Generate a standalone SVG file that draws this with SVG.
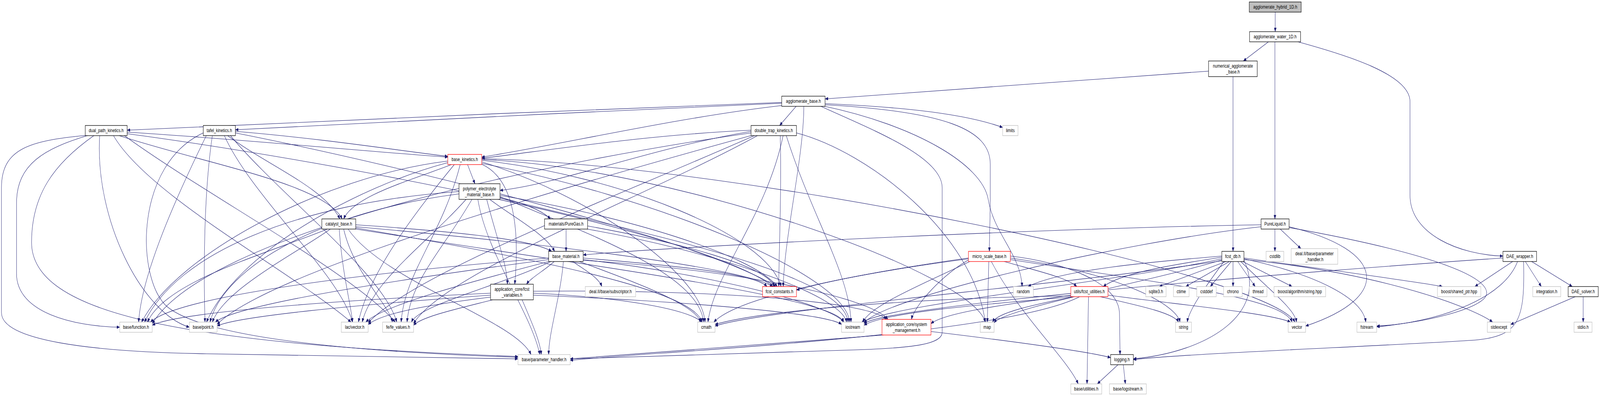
<svg xmlns="http://www.w3.org/2000/svg" width="5424" height="1013" viewBox="0 0 5424 1013" preserveAspectRatio="none" style="width:100vw;height:100vh;display:block">
<style>
.bg{fill:#ffffff}
rect.n{fill:#ffffff;stroke:#000000;stroke-width:1.3}
rect.g{fill:#ffffff;stroke:#bfbfbf;stroke-width:1.3}
rect.r{fill:#ffffff;stroke:#ff0000;stroke-width:1.3}
rect.root{fill:#bfbfbf;stroke:#000000;stroke-width:1.3}
text{font-family:"Liberation Sans",Arial,Helvetica,sans-serif;font-size:13px;fill:#000000;text-anchor:middle}
#edges path{fill:none;stroke:#191970;stroke-width:1.1;marker-end:url(#a)}
</style>
<defs>
<marker id="a" markerWidth="11" markerHeight="8" refX="10" refY="4" orient="auto" markerUnits="userSpaceOnUse">
<path d="M0,0 L10,4 L0,8 z" fill="#191970" stroke="#191970" stroke-width="0.5"/>
</marker>
</defs>
<rect class="bg" x="0" y="0" width="5424" height="1013"/>
<g id="edges">
<path d="M4323,31 L4323,81"/>
<path d="M4300,107 L4215,156"/>
<path d="M4322,107 L4322,560"/>
<path d="M4400,107 C4560,140 4780,190 4780,260 L4780,500 C4780,600 4950,652 5095,655"/>
<path d="M4097,182 L2797,253"/>
<path d="M4180,196 L4180,643"/>
<path d="M2650,262 C2000,280 900,315 431,333"/>
<path d="M2650,264 C2100,280 1200,318 798,332"/>
<path d="M2700,271 L2643,321"/>
<path d="M2650,270 C2300,300 1900,370 1633,402"/>
<path d="M2797,265 C3000,272 3250,285 3399,326"/>
<path d="M2797,268 C3200,285 3357,330 3357,420 L3357,500 C3357,560 3354,600 3354,643"/>
<path d="M2790,271 C3100,320 3330,420 3350,510 C3370,600 3460,650 3465,733"/>
<path d="M2780,271 C2950,330 3194,400 3194,480 L3194,850 C3194,880 3100,890 2900,895 C2500,905 2100,915 1933,918"/>
<path d="M2725,271 C2725,400 2660,600 2655,733"/>
<path d="M431,338 C800,355 1200,385 1518,402"/>
<path d="M300,346 C150,380 56,420 56,520 L56,700 C56,800 250,835 406,837"/>
<path d="M295,346 C100,360 5,380 5,480 L5,800 C5,870 300,900 700,905 C1200,912 1600,916 1756,918"/>
<path d="M338,346 C320,560 480,800 642,837"/>
<path d="M384,346 C500,500 1000,700 1190,824"/>
<path d="M420,346 C700,500 1200,700 1340,824"/>
<path d="M431,342 C1200,420 2400,600 2620,733"/>
<path d="M400,346 C700,420 1100,470 1160,560"/>
<path d="M320,346 C180,420 107,500 107,620 C107,800 600,880 1756,912"/>
<path d="M798,336 C1100,355 1350,385 1518,400"/>
<path d="M700,346 C600,500 480,700 470,824"/>
<path d="M720,346 C690,500 690,700 695,824"/>
<path d="M760,346 C850,500 1150,700 1195,824"/>
<path d="M780,346 C950,500 1300,700 1345,824"/>
<path d="M689,340 C460,420 460,700 560,780 C700,880 1400,905 1756,914"/>
<path d="M798,340 C1400,430 2400,620 2630,733"/>
<path d="M770,346 C900,420 1100,480 1152,560"/>
<path d="M2546,333 C2200,345 1900,380 1633,405"/>
<path d="M2546,336 C2200,380 1900,470 1695,487"/>
<path d="M2546,340 C1800,420 700,600 516,828"/>
<path d="M2550,346 C1900,480 900,700 736,830"/>
<path d="M2560,346 C2100,500 1400,700 1248,826"/>
<path d="M2570,346 C2200,500 1500,700 1402,828"/>
<path d="M2645,346 C2650,500 2640,650 2640,733"/>
<path d="M2655,346 C2600,550 2420,700 2400,824"/>
<path d="M2665,346 C2750,550 2880,700 2885,824"/>
<path d="M2700,340 C2950,390 3300,600 3340,824"/>
<path d="M1585,421 L1610,470"/>
<path d="M1530,421 C1400,460 1200,500 1165,560"/>
<path d="M1518,412 C1100,450 600,650 480,824"/>
<path d="M1518,416 C1200,480 800,650 700,824"/>
<path d="M1540,421 C1400,550 1250,700 1215,824"/>
<path d="M1560,421 C1500,600 1370,700 1360,824"/>
<path d="M1633,410 C2100,450 2600,600 2648,733"/>
<path d="M1633,414 C2000,500 2380,700 2390,824"/>
<path d="M1633,418 C2200,500 2870,700 2880,824"/>
<path d="M1633,420 C1750,460 1760,600 1745,727"/>
<path d="M1633,408 C2300,430 3300,700 3340,824"/>
<path d="M1633,406 C2500,420 4300,700 4390,824"/>
<path d="M1660,510 C1750,560 1850,600 1880,643"/>
<path d="M1695,505 C1780,520 1840,540 1866,560"/>
<path d="M1556,490 C1000,520 600,650 490,824"/>
<path d="M1556,496 C1100,540 760,680 712,824"/>
<path d="M1580,510 C1450,620 1260,720 1228,824"/>
<path d="M1600,510 C1500,640 1390,720 1380,824"/>
<path d="M1620,510 C1650,650 1800,800 1830,907"/>
<path d="M1695,500 C2100,550 2550,650 2635,733"/>
<path d="M1695,503 C2000,600 2370,700 2385,824"/>
<path d="M1695,507 C2200,600 2860,700 2875,824"/>
<path d="M1650,510 C1680,600 1720,680 1720,727"/>
<path d="M1206,575 C1500,590 1800,610 1870,643"/>
<path d="M1110,586 C900,650 560,720 500,824"/>
<path d="M1120,586 C1000,650 760,740 720,824"/>
<path d="M1150,586 C1160,700 1190,780 1195,824"/>
<path d="M1165,586 C1200,700 1320,780 1330,824"/>
<path d="M1180,586 C1300,720 1750,820 1800,907"/>
<path d="M1206,580 C1800,620 2500,680 2620,733"/>
<path d="M1206,583 C1800,660 2350,740 2380,824"/>
<path d="M1206,586 C2000,680 2830,760 2860,824"/>
<path d="M1919,586 L1919,643"/>
<path d="M1992,578 C2300,620 2600,680 2625,733"/>
<path d="M1990,586 C2400,640 2850,750 2870,824"/>
<path d="M1880,668 C1850,690 1800,710 1785,727"/>
<path d="M1940,668 C1980,690 2030,710 2040,733"/>
<path d="M1860,660 C1200,700 600,760 510,824"/>
<path d="M1860,664 C1300,720 800,780 730,824"/>
<path d="M1865,668 C1600,720 1300,780 1240,824"/>
<path d="M1870,668 C1700,730 1420,780 1395,824"/>
<path d="M1910,668 C1900,760 1860,850 1860,907"/>
<path d="M1977,660 C2300,680 2560,700 2600,733"/>
<path d="M1960,668 C2150,720 2360,780 2375,824"/>
<path d="M1977,664 C2400,700 2820,780 2860,824"/>
<path d="M1977,666 C2500,690 2950,760 3010,817"/>
<path d="M1663,750 C1100,770 600,800 516,832"/>
<path d="M1663,755 C1200,780 800,810 736,834"/>
<path d="M1663,760 C1450,780 1300,800 1248,830"/>
<path d="M1670,767 C1550,790 1430,810 1402,832"/>
<path d="M1770,767 C1800,820 1830,870 1835,907"/>
<path d="M1808,750 C2100,760 2330,790 2380,824"/>
<path d="M1808,755 C2300,770 2800,800 2853,830"/>
<path d="M1808,745 C2400,740 2950,770 3005,817"/>
<path d="M3283,660 C3000,690 2800,720 2700,742"/>
<path d="M3400,668 C3500,690 3620,710 3650,733"/>
<path d="M3352,668 L3347,824"/>
<path d="M3360,668 C3450,800 3620,920 3655,982"/>
<path d="M3425,655 C3600,670 3790,720 3795,800 L3797,907"/>
<path d="M3283,665 C3200,700 3100,780 3090,817"/>
<path d="M3290,668 C3150,720 2950,780 2925,824"/>
<path d="M3283,662 C2900,700 2500,760 2420,824"/>
<path d="M3425,660 C3800,700 3990,780 4000,824"/>
<path d="M3425,664 C3900,720 4350,760 4380,824"/>
<path d="M3640,759 C3500,780 3380,800 3365,824"/>
<path d="M3730,759 C3850,780 3980,800 3995,824"/>
<path d="M3630,755 C3400,780 3200,800 3156,828"/>
<path d="M3690,759 L3685,982"/>
<path d="M3630,757 C3200,760 2600,790 2424,830"/>
<path d="M3640,759 C3300,780 3000,800 2929,832"/>
<path d="M3756,755 C4000,780 4300,800 4375,824"/>
<path d="M3660,759 C3400,860 2200,900 1933,922"/>
<path d="M4160,668 L3930,733"/>
<path d="M4170,668 L4020,733"/>
<path d="M4175,668 L4103,733"/>
<path d="M4180,668 L4180,733"/>
<path d="M4195,668 L4255,733"/>
<path d="M4210,668 L4380,733"/>
<path d="M4142,655 C3900,670 3600,690 3485,733"/>
<path d="M4142,658 C3950,680 3800,700 3740,733"/>
<path d="M4150,668 C4100,720 4030,790 4025,824"/>
<path d="M4205,668 C4300,740 4390,790 4395,824"/>
<path d="M4217,662 C4450,700 4620,760 4630,824"/>
<path d="M4142,662 C3800,720 3000,780 2920,826"/>
<path d="M4142,665 C3900,720 3400,790 3370,826"/>
<path d="M4142,667 C3600,730 2600,790 2424,834"/>
<path d="M4217,665 C4300,800 4100,900 3842,918"/>
<path d="M4217,664 C4700,700 5000,790 5060,824"/>
<path d="M4217,660 C4500,690 4800,720 4890,733"/>
<path d="M3156,848 C3400,870 3700,900 3765,915"/>
<path d="M2995,857 C2600,880 2100,910 1933,918"/>
<path d="M3790,933 L3720,982"/>
<path d="M3808,933 L3815,982"/>
<path d="M4322,586 L4322,643"/>
<path d="M4340,586 L4410,636"/>
<path d="M4275,575 C3500,585 2300,630 1977,652"/>
<path d="M4370,580 C4700,640 4720,760 4426,834"/>
<path d="M4370,582 C4800,640 5040,700 5040,750 C5040,790 4800,830 4667,834"/>
<path d="M4275,580 C3800,620 3000,760 2929,826"/>
<path d="M5130,668 L5000,733"/>
<path d="M5170,668 L5225,733"/>
<path d="M5190,668 L5330,733"/>
<path d="M5145,668 C5100,760 4900,820 4667,836"/>
<path d="M5165,668 C5170,820 5150,860 5000,870 C4700,885 4000,905 3842,920"/>
<path d="M5095,660 C4500,690 3000,780 2929,828"/>
<path d="M5340,759 L5121,830"/>
<path d="M5367,759 L5367,824"/>
</g>
<g id="n_hybrid"><rect class="root" x="4235" y="5" width="176" height="26"/><text x="4323" y="22.5">agglomerate_hybrid_1D.h</text></g>
<g id="n_water"><rect class="n" x="4236" y="81" width="173" height="26"/><text x="4322.5" y="98.5">agglomerate_water_1D.h</text></g>
<g id="n_numerical"><rect class="n" x="4097" y="156" width="165" height="40"/><text x="4179.5" y="173">numerical_agglomerate</text><text x="4179.5" y="188">_base.h</text></g>
<g id="n_agg_base"><rect class="n" x="2650" y="246" width="147" height="26"/><text x="2723.5" y="263.5">agglomerate_base.h</text></g>
<g id="n_dual_path"><rect class="n" x="289" y="321" width="142" height="26"/><text x="360" y="338.5">dual_path_kinetics.h</text></g>
<g id="n_tafel"><rect class="n" x="689" y="321" width="109" height="26"/><text x="743.5" y="338.5">tafel_kinetics.h</text></g>
<g id="n_double_trap"><rect class="n" x="2546" y="321" width="154" height="26"/><text x="2623" y="338.5">double_trap_kinetics.h</text></g>
<g id="n_limits"><rect class="g" x="3399" y="321" width="52" height="26"/><text x="3425" y="338.5">limits</text></g>
<g id="n_base_kinetics"><rect class="r" x="1518" y="395" width="115" height="26"/><text x="1575.5" y="412.5">base_kinetics.h</text></g>
<g id="n_pem"><rect class="n" x="1556" y="470" width="139" height="40"/><text x="1625.5" y="487">polymer_electrolyte</text><text x="1625.5" y="502">_material_base.h</text></g>
<g id="n_catalyst"><rect class="n" x="1091" y="560" width="115" height="26"/><text x="1148.5" y="577.5">catalyst_base.h</text></g>
<g id="n_puregas"><rect class="n" x="1846" y="560" width="146" height="26"/><text x="1919" y="577.5">materials/PureGas.h</text></g>
<g id="n_pureliquid"><rect class="n" x="4275" y="560" width="95" height="26"/><text x="4322.5" y="577.5">PureLiquid.h</text></g>
<g id="n_base_material"><rect class="n" x="1860" y="643" width="117" height="26"/><text x="1918.5" y="660.5">base_material.h</text></g>
<g id="n_micro_scale"><rect class="r" x="3283" y="643" width="142" height="26"/><text x="3354" y="660.5">micro_scale_base.h</text></g>
<g id="n_fcst_db"><rect class="n" x="4142" y="643" width="75" height="26"/><text x="4179.5" y="660.5">fcst_db.h</text></g>
<g id="n_cstdlib"><rect class="g" x="4292" y="643" width="60" height="26"/><text x="4322" y="660.5">cstdlib</text></g>
<g id="n_dealii_param"><rect class="g" x="4377" y="636" width="158" height="40"/><text x="4456" y="653">deal.II/base/parameter</text><text x="4456" y="668">_handler.h</text></g>
<g id="n_dae_wrapper"><rect class="n" x="5095" y="643" width="114" height="26"/><text x="5152" y="660.5">DAE_wrapper.h</text></g>
<g id="n_fcst_variables"><rect class="n" x="1663" y="727" width="145" height="40"/><text x="1735.5" y="744">application_core/fcst</text><text x="1735.5" y="759">_variables.h</text></g>
<g id="n_subscriptor"><rect class="g" x="1984" y="733" width="171" height="26"/><text x="2069.5" y="750.5">deal.II/base/subscriptor.h</text></g>
<g id="n_fcst_constants"><rect class="r" x="2585" y="733" width="115" height="26"/><text x="2642.5" y="750.5">fcst_constants.h</text></g>
<g id="n_random"><rect class="g" x="3435" y="733" width="68" height="26"/><text x="3469" y="750.5">random</text></g>
<g id="n_fcst_utilities"><rect class="r" x="3630" y="733" width="126" height="26"/><text x="3693" y="750.5">utils/fcst_utilities.h</text></g>
<g id="n_sqlite3"><rect class="g" x="3884" y="733" width="69" height="26"/><text x="3918.5" y="750.5">sqlite3.h</text></g>
<g id="n_ctime"><rect class="g" x="3978" y="733" width="53" height="26"/><text x="4004.5" y="750.5">ctime</text></g>
<g id="n_cstddef"><rect class="g" x="4057" y="733" width="66" height="26"/><text x="4090" y="750.5">cstddef</text></g>
<g id="n_chrono"><rect class="g" x="4148" y="733" width="63" height="26"/><text x="4179.5" y="750.5">chrono</text></g>
<g id="n_thread"><rect class="g" x="4235" y="733" width="60" height="26"/><text x="4265" y="750.5">thread</text></g>
<g id="n_boost_algo"><rect class="g" x="4319" y="733" width="175" height="26"/><text x="4406.5" y="750.5">boost/algorithm/string.hpp</text></g>
<g id="n_boost_shared"><rect class="g" x="4873" y="733" width="147" height="26"/><text x="4946.5" y="750.5">boost/shared_ptr.hpp</text></g>
<g id="n_integration"><rect class="g" x="5196" y="733" width="95" height="26"/><text x="5243.5" y="750.5">integration.h</text></g>
<g id="n_dae_solver"><rect class="n" x="5316" y="733" width="102" height="26"/><text x="5367" y="750.5">DAE_solver.h</text></g>
<g id="n_base_function"><rect class="g" x="406" y="824" width="110" height="26"/><text x="461" y="841.5">base/function.h</text></g>
<g id="n_base_point"><rect class="g" x="642" y="824" width="94" height="26"/><text x="689" y="841.5">base/point.h</text></g>
<g id="n_lac_vector"><rect class="g" x="1157" y="824" width="91" height="26"/><text x="1202.5" y="841.5">lac/vector.h</text></g>
<g id="n_fe_values"><rect class="g" x="1297" y="824" width="105" height="26"/><text x="1349.5" y="841.5">fe/fe_values.h</text></g>
<g id="n_cmath"><rect class="g" x="2365" y="824" width="59" height="26"/><text x="2394.5" y="841.5">cmath</text></g>
<g id="n_iostream"><rect class="g" x="2853" y="824" width="76" height="26"/><text x="2891" y="841.5">iostream</text></g>
<g id="n_system_management"><rect class="r" x="2990" y="817" width="166" height="40"/><text x="3073" y="834">application_core/system</text><text x="3073" y="849">_management.h</text></g>
<g id="n_map"><rect class="g" x="3323" y="824" width="47" height="26"/><text x="3346.5" y="841.5">map</text></g>
<g id="n_string"><rect class="g" x="3985" y="824" width="54" height="26"/><text x="4012" y="841.5">string</text></g>
<g id="n_vector"><rect class="g" x="4367" y="824" width="59" height="26"/><text x="4396.5" y="841.5">vector</text></g>
<g id="n_fstream"><rect class="g" x="4600" y="824" width="67" height="26"/><text x="4633.5" y="841.5">fstream</text></g>
<g id="n_stdexcept"><rect class="g" x="5042" y="824" width="79" height="26"/><text x="5081.5" y="841.5">stdexcept</text></g>
<g id="n_stdio"><rect class="g" x="5336" y="824" width="61" height="26"/><text x="5366.5" y="841.5">stdio.h</text></g>
<g id="n_base_param"><rect class="g" x="1756" y="907" width="177" height="26"/><text x="1844.5" y="924.5">base/parameter_handler.h</text></g>
<g id="n_logging"><rect class="n" x="3765" y="907" width="77" height="26"/><text x="3803.5" y="924.5">logging.h</text></g>
<g id="n_base_utilities"><rect class="g" x="3630" y="982" width="105" height="26"/><text x="3682.5" y="999.5">base/utilities.h</text></g>
<g id="n_base_logstream"><rect class="g" x="3761" y="982" width="125" height="26"/><text x="3823.5" y="999.5">base/logstream.h</text></g>
</svg>
